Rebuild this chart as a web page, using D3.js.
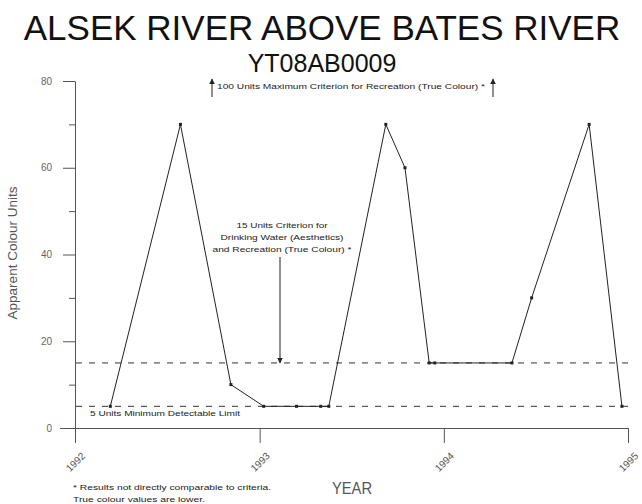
<!DOCTYPE html>
<html><head><meta charset="utf-8">
<script src="https://cdn.jsdelivr.net/npm/d3@7"></script>
<style>body{margin:0;background:#fff}svg{display:block;font-family:"Liberation Sans",Arial,sans-serif}</style>
</head><body><svg id="c" width="642" height="504"></svg>
<script>
const dates = ["1992-03-11","1992-07-28","1992-11-05","1993-01-09","1993-03-15","1993-05-02","1993-05-18","1993-09-08","1993-10-16","1993-12-03","1993-12-14","1994-05-16","1994-06-24","1994-10-16","1994-12-20"];
const values = [5,70,10,5,5,5,5,70,60,15,15,15,30,70,5];
const yearTicks = ["1992","1993","1994","1995"];
const yMajor = [0,20,40,60,80];
const yMinor = [10,30,50,70];
const criteria = [15,5];
const title = "ALSEK RIVER ABOVE BATES RIVER";
const subtitle = "YT08AB0009";

const parse = d3.timeParse("%Y-%m-%d");
const pY = d3.timeParse("%Y");
const svg = d3.select("#c");
const x = d3.scaleTime().domain([pY("1992"), pY("1995")]).range([75, 628]);
const y = d3.scaleLinear().domain([0, 80]).range([428, 81]);

const defs = svg.append("defs");
defs.append("marker").attr("id","ah").attr("viewBox","0 0 10 10").attr("refX",9).attr("refY",5)
  .attr("markerWidth",6).attr("markerHeight",6).attr("markerUnits","userSpaceOnUse").attr("orient","auto-start-reverse")
  .append("path").attr("d","M0,0L10,5L0,10z").attr("fill","#222");

svg.append("text").attr("x",322).attr("y",40).attr("text-anchor","middle")
  .attr("font-size",35).attr("fill","#111").text(title);
svg.append("text").attr("x",322).attr("y",72).attr("text-anchor","middle")
  .attr("font-size",25).attr("fill","#111").text(subtitle);

// y axis
const gy = svg.append("g").attr("transform","translate(75,0)");
gy.call(d3.axisLeft(y).tickValues(yMajor).tickSize(12).tickSizeOuter(0).tickPadding(11));
gy.append("g").call(d3.axisLeft(y).tickValues(yMinor).tickSize(6).tickFormat(""));
gy.selectAll("path.domain").filter((d,i)=>i>0).remove();
gy.selectAll("line,path").attr("stroke","#555");
gy.selectAll("text").attr("font-size",10).attr("fill","#666").attr("font-family","Liberation Sans, Arial");

// x axis
const gx = svg.append("g").attr("transform","translate(0,428)");
gx.call(d3.axisBottom(x).tickValues(yearTicks.map(pY)).tickSize(15).tickSizeOuter(0).tickFormat(d3.timeFormat("%Y")));
gx.selectAll("line,path").attr("stroke","#555");
gx.select("path.domain").attr("d","M60,0.5H"+(x(pY("1995"))+0.5));
gx.selectAll("text").attr("font-size",10).attr("fill","#555").attr("font-family","Liberation Sans, Arial")
  .attr("text-anchor","middle").attr("y",0).attr("dy","0.35em")
  .attr("transform","translate(0,34) rotate(-45)");

// criteria dashed lines
svg.selectAll("line.crit").data(criteria).join("line").attr("class","crit")
  .attr("x1",76).attr("x2",630).attr("y1",d=>y(d)).attr("y2",d=>y(d))
  .attr("stroke","#333").attr("stroke-width",1).attr("stroke-dasharray","6,7");

// data line
const data = dates.map((d,i)=>({t:parse(d), v:values[i]}));
svg.append("path").datum(data).attr("fill","none").attr("stroke","#222").attr("stroke-width",1)
  .attr("d", d3.line().x(d=>x(d.t)).y(d=>y(d.v)));
svg.selectAll("rect.pt").data(data).join("rect").attr("class","pt")
  .attr("x",d=>x(d.t)-1.5).attr("y",d=>y(d.v)-1.5).attr("width",3).attr("height",3).attr("fill","#222");

// annotations
function txt(x0,y0,s,anchor,len){
  const t = svg.append("text").attr("x",x0).attr("y",y0).attr("text-anchor",anchor||"start")
    .attr("font-size",8).attr("fill","#222").text(s);
  if(len) t.attr("textLength",len).attr("lengthAdjust","spacingAndGlyphs");
  return t;
}
txt(217,89,"100 Units Maximum Criterion for Recreation (True Colour) *","start",268);
svg.append("line").attr("x1",212).attr("x2",212).attr("y1",97).attr("y2",79).attr("stroke","#222").attr("marker-end","url(#ah)");
svg.append("line").attr("x1",493).attr("x2",493).attr("y1",97).attr("y2",79).attr("stroke","#222").attr("marker-end","url(#ah)");

txt(282,228,"15 Units Criterion for","middle",91);
txt(282,240,"Drinking Water (Aesthetics)","middle",123);
txt(282,252,"and Recreation (True Colour) *","middle",139);
svg.append("line").attr("x1",280).attr("x2",280).attr("y1",257).attr("y2",y(15)).attr("stroke","#222").attr("marker-end","url(#ah)");

txt(90,416,"5 Units Minimum Detectable Limit","start",150);

txt(73,490,"* Results not directly comparable to criteria.","start",198);
txt(73,502,"True colour values are lower.","start",132);

svg.append("text").attr("x",352).attr("y",494).attr("text-anchor","middle").attr("font-size",16)
  .attr("textLength",40).attr("lengthAdjust","spacingAndGlyphs").attr("fill","#555").text("YEAR");
svg.append("text").attr("transform","translate(17,253) rotate(-90)").attr("text-anchor","middle")
  .attr("font-size",13.5).attr("fill","#555").text("Apparent Colour Units");
</script></body></html>
